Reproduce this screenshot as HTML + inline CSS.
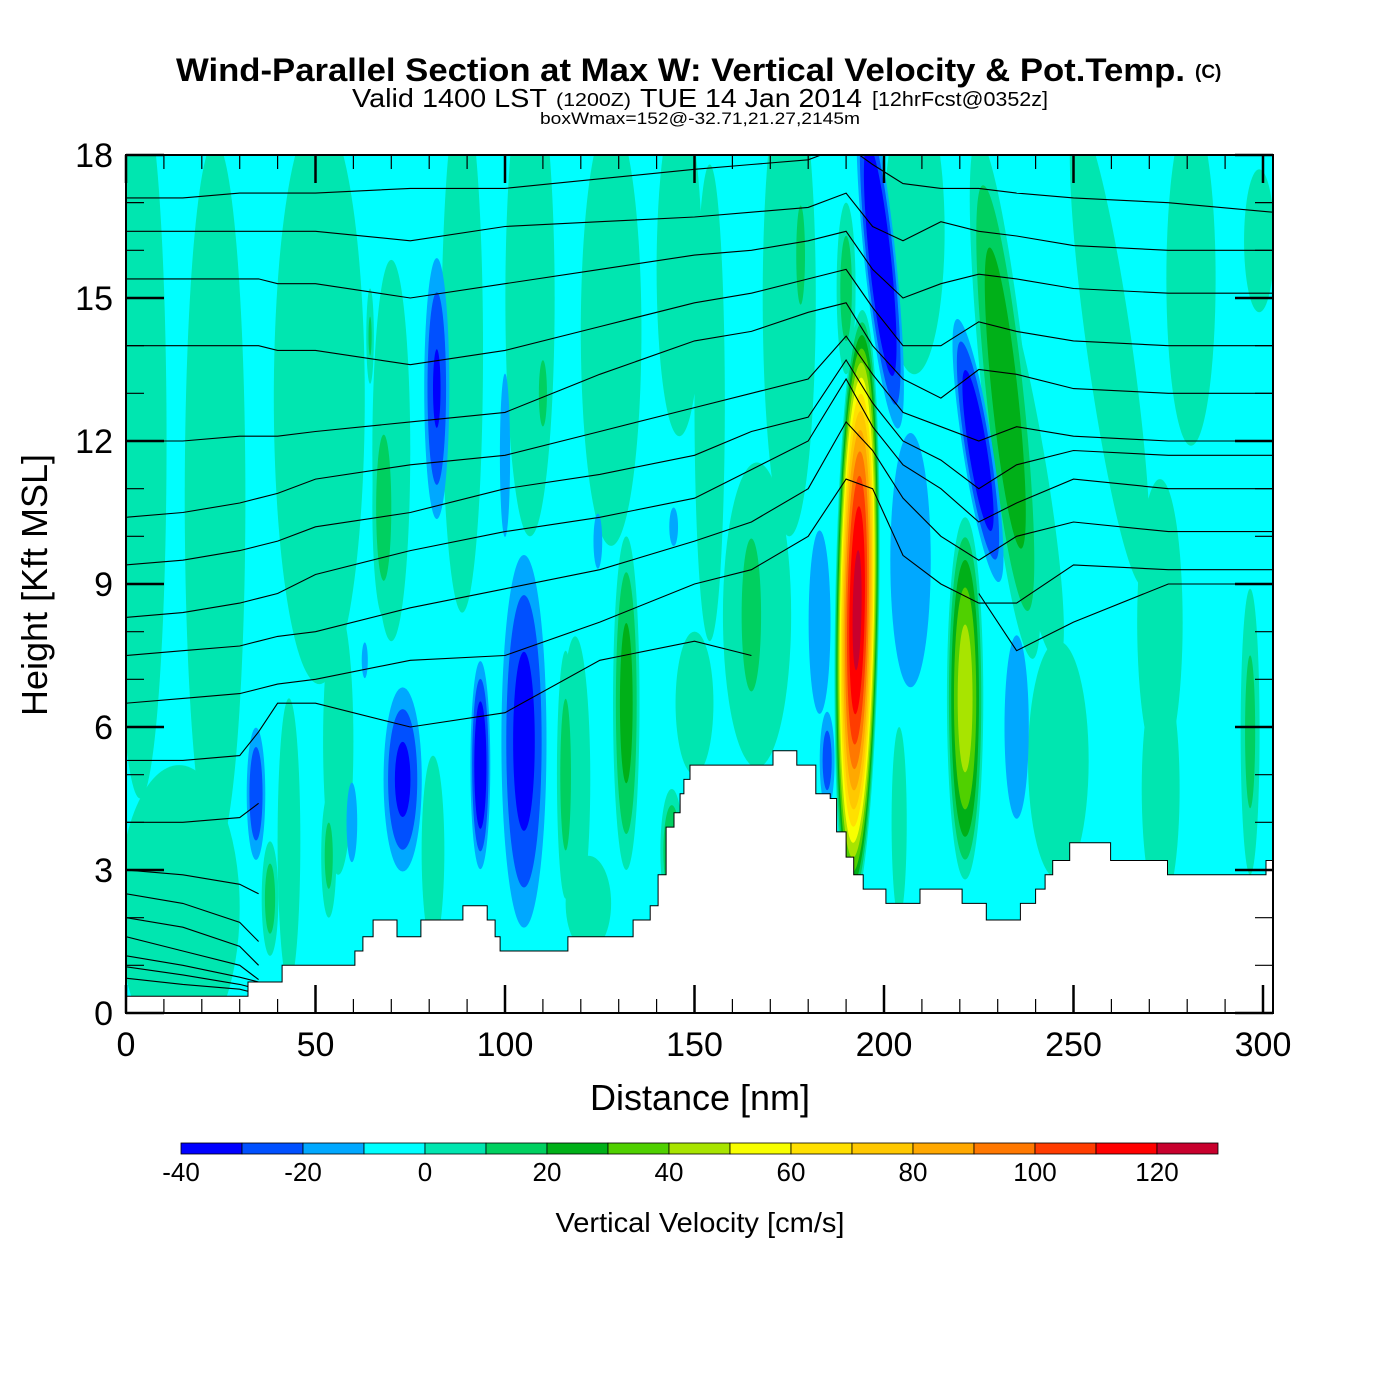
<!DOCTYPE html>
<html><head><meta charset="utf-8"><style>
html,body{margin:0;padding:0;background:#fff;}
svg{display:block;font-family:"Liberation Sans",Arial,sans-serif;}
</style></head><body>
<svg id="chart" width="1400" height="1400" viewBox="0 0 1400 1400" xmlns="http://www.w3.org/2000/svg">
<rect x="0" y="0" width="1400" height="1400" fill="#fff"/>
<text x="176" y="81" font-size="32" font-weight="bold" textLength="1009" lengthAdjust="spacingAndGlyphs">Wind-Parallel Section at Max W: Vertical Velocity &amp; Pot.Temp.</text>
<text x="1195" y="78" font-size="19" font-weight="bold">(C)</text>
<g>
<text x="352" y="107" font-size="26" textLength="195" lengthAdjust="spacingAndGlyphs">Valid 1400 LST</text>
<text x="556" y="106" font-size="18" textLength="75" lengthAdjust="spacingAndGlyphs">(1200Z)</text>
<text x="640" y="107" font-size="26" textLength="222" lengthAdjust="spacingAndGlyphs">TUE 14 Jan 2014</text>
<text x="872" y="106" font-size="20" textLength="176" lengthAdjust="spacingAndGlyphs">[12hrFcst@0352z]</text>
</g>
<text x="540" y="124" font-size="17" textLength="320" lengthAdjust="spacingAndGlyphs">boxWmax=152@-32.71,21.27,2145m</text>
<defs><clipPath id="plotclip"><rect x="126" y="155" width="1147" height="858"/></clipPath></defs>
<g id="field" clip-path="url(#plotclip)">
<rect x="126" y="155" width="1147" height="858" fill="#00ffff"/>
</g>
<g id="contours" clip-path="url(#plotclip)"></g>
<g id="terrain"></g>
<g id="axes"></g>
<g id="cbar"></g>
<text x="700" y="1110" font-size="36" text-anchor="middle">Distance [nm]</text>
<text x="0" y="0" font-size="36" text-anchor="middle" transform="translate(47,585) rotate(-90)">Height [Kft MSL]</text>
<text x="700" y="1232" font-size="28" text-anchor="middle" textLength="289" lengthAdjust="spacingAndGlyphs">Vertical Velocity [cm/s]</text>
</svg>
<script>
// ---- data ----
const bandColors = ["#0000ff","#0050ff","#00a8ff","#00ffff","#00e6b0","#00d060","#00b018","#50d000","#a8e400","#f8ff00","#ffe000","#ffc800","#ffa800","#ff7800","#ff3c00","#ff0000","#c8002d"];
const bandLows = [-40,-30,-20,-10,0,10,20,30,40,50,60,70,80,90,100,110,120];
const cbarTicks = [-40,-20,0,20,40,60,80,100,120];
const xTicks = [0,50,100,150,200,250,300];
const yTicks = [0,3,6,9,12,15,18];
// velocity features (nm, kft, radii, peak cm/s, tilt deg)
const featX =   [3.7,23.5,51,56,70,88.7,106.6,118.5,128,146,14,43,81,122,154,175,166.5,208,204,236,246,259.6,272.8,281,273,296.6,299,150, 68,64.4,110,38,53.5,116,132,144,165,178,190,232, 82,100,34.3,59.6,73,93.5,105,124.5,144.5,63,207,235,183,185,199,224.8, 192.9,221.4];
const featY =   [12,10.8,12.9,5.7,11.8,13.9,15,4.9,14.3,15.6,2.2,3.6,3.4,2.3,12.8,15,8.35,16.4,4,11.8,5.3,13.9,8.2,15.4,4.7,5.9,16.2,6.5, 10.6,14.2,13.0,2.4,3.3,5.0,6.5,3.4,8.35,15.9,15.2,12.9, 13.1,11.7,4.6,4.0,4.9,5.2,5.7,9.9,10.2,7.4,9.5,6.0,8.2,5.3,15.8,11.8, 8.45,6.6];
const featRx =  [7,8,12,4,5,5.5,6.5,4,8,6,16,3,3,6,4,7,9,8,2,6,8,6,6,6.5,5,2.5,4,5, 3,1,2,2.2,2,2.3,3.5,3,4,2,2.5,6, 4,2.2,3,2.2,6,3,7,2,2,1.5,8,5,4.5,2.5,4.7,4.5, 5.8,4.8];
const featRy =  [7.5,7.5,6,2.8,4,5.5,5,3,4.5,3.5,3,3,2,1,5,5,3.2,3,2,4.5,2.5,5,3,3.5,2.5,3,1.5,1.5, 2.3,1,1.3,1.2,1.3,2.6,3.5,1.3,2.5,1.8,1.8,5.5, 3.3,2.8,1.7,1.3,2.3,2.5,4.6,1,0.7,0.7,4,3,3,1.3,4,3.2, 6.3,3.8];
const featPeak =[8,8,8,8,8,8,8,8,8,8,8,8,8,8,8,8,8,8,8,8,8,8,8,8,8,14,8,8, 18,12,14,16,14,16,26,22,17,15,16,30, -32,-16,-30,-17,-34,-42,-36,-15,-15,-14,-18,-17,-17,-26,-48,-42, 125,48];
const featTilt =[0,0,0,0,0,0,0,0,0,0,0,0,0,0,0,0,0,0,0,-10,0,-8,0,0,0,0,0,0, 0,0,0,0,0,0,0,0,0,0,0,-6, 0,0,0,0,0,0,0,0,0,0,0,0,0,0,-6,-9, 1,0];
// potential temperature contours (kft at node distances)
const nodeNm = [0,15,30,35,40,50,75,100,125,150,165,180,190,197,205,215,225,235,250,275,302.6];
const th1 = [17.1,17.1,17.2,17.2,17.2,17.2,17.3,17.3,17.5,17.7,17.8,17.9,18.2,17.8,17.4,17.3,17.3,17.2,17.1,17.0,16.8];
const th2 = [16.4,16.4,16.4,16.4,16.4,16.4,16.2,16.5,16.6,16.7,16.8,16.9,17.2,16.5,16.2,16.6,16.4,16.3,16.1,16.0,16.0];
const th3 = [15.4,15.4,15.4,15.4,15.3,15.3,15.0,15.3,15.6,15.9,16.0,16.2,16.4,15.6,15.0,15.3,15.5,15.4,15.2,15.1,15.1];
const th4 = [14.0,14.0,14.0,14.0,13.9,13.9,13.6,13.9,14.4,14.9,15.1,15.4,15.6,14.8,14.0,14.0,14.5,14.3,14.1,14.0,14.0];
const th5 = [12.0,12.0,12.1,12.1,12.1,12.2,12.4,12.6,13.4,14.1,14.3,14.7,14.9,14.0,13.3,12.9,13.5,13.4,13.1,13.0,13.0];
const th6 = [10.4,10.5,10.7,10.8,10.9,11.2,11.5,11.7,12.2,12.7,13.0,13.3,14.2,13.4,12.6,12.3,12.0,12.3,12.1,12.0,12.0];
const th7 = [9.4,9.5,9.7,9.8,9.9,10.2,10.5,11.0,11.3,11.7,12.2,12.5,13.7,12.8,12.0,11.6,11.0,11.5,11.8,11.7,11.7];
const th8 = [8.3,8.4,8.6,8.7,8.8,9.2,9.7,10.1,10.4,10.8,11.4,12.0,13.3,12.3,11.5,11.0,10.3,10.7,11.2,11.0,11.0];
const th9 = [7.5,7.6,7.7,7.8,7.9,8.0,8.5,8.9,9.3,9.9,10.3,11.0,12.4,11.8,10.8,10.0,9.5,10.0,10.3,10.1,10.1];
const th10 = [6.5,6.6,6.7,6.8,6.9,7.0,7.4,7.5,8.2,9.0,9.3,10.0,11.2,11.0,9.6,9.0,8.6,8.6,9.4,9.3,9.3];
const th11 = [5.3,5.3,5.4,5.9,6.5,6.5,6.0,6.3,7.4,7.8,7.5,null,null,null,null,null,8.8,7.6,8.2,9.0,9.0];
const th12 = [4.0,4.0,4.1,4.4,null,null,null,null,null,null,null,null,null,null,null,null,null,null,null,null,null];
const th13 = [3.0,2.9,2.7,2.5,null,null,null,null,null,null,null,null,null,null,null,null,null,null,null,null,null];
const th14 = [2.5,2.3,1.9,1.5,null,null,null,null,null,null,null,null,null,null,null,null,null,null,null,null,null];
const th15 = [2.0,1.8,1.4,1.0,null,null,null,null,null,null,null,null,null,null,null,null,null,null,null,null,null];
const th16 = [1.6,1.3,1.0,0.7,null,null,null,null,null,null,null,null,null,null,null,null,null,null,null,null,null];
const th17 = [1.2,1.0,0.75,0.65,null,null,null,null,null,null,null,null,null,null,null,null,null,null,null,null,null];
const th18 = [0.97,0.8,0.6,0.5,null,null,null,null,null,null,null,null,null,null,null,null,null,null,null,null,null];
const th19 = [0.73,0.6,0.5,0.4,null,null,null,null,null,null,null,null,null,null,null,null,null,null,null,null,null];
const thetaSets = [th1,th2,th3,th4,th5,th6,th7,th8,th9,th10,th11,th12,th13,th14,th15,th16,th17,th18,th19];
// terrain step starts (nm) and heights (kft)
const terrainNm = [0,32.2,41.2,60.4,62.5,65.2,71.5,77.8,88.9,95.3,97.4,98.7,116.6,133.8,138.3,140.4,142.5,144.6,146.2,147.2,148.8,170.7,177,182,185.8,187.5,190,192,194.5,200.5,209.5,220.6,227,236,240,242.5,244.5,249,259.8,274.8,300.8];
const terrainKft = [0.35,0.65,1.0,1.3,1.6,1.95,1.6,1.95,2.25,1.95,1.6,1.3,1.6,1.95,2.25,2.9,3.9,4.2,4.6,4.9,5.2,5.5,5.2,4.6,4.5,3.8,3.27,2.9,2.6,2.3,2.6,2.3,1.95,2.3,2.6,2.9,3.2,3.57,3.2,2.9,3.2];

// ---- scales ----
const NS="http://www.w3.org/2000/svg";
const xMax = 302.6;
function X(nm){return 126 + nm*3.79;}
function Y(k){return 1013 - k*47.667;}
function mk(tag, attrs, parent){const e=document.createElementNS(NS,tag);for(const k in attrs)e.setAttribute(k,attrs[k]);parent.appendChild(e);return e;}
function bandColor(v){let i=Math.floor((v+40)/10);i=Math.max(0,Math.min(bandColors.length-1,i));return bandColors[i];}

// ---- field ----
const field=document.getElementById('field');
for(let f=0;f<featX.length;f++){
  const p=featPeak[f], cx=X(featX[f]), cy=Y(featY[f]);
  const rx=featRx[f]*3.79, ry=featRy[f]*47.667;
  const levels=[];
  if(p>0){for(let l=0;l<p;l+=10)levels.push(l);}else{for(let l=-10;l>p;l-=10)levels.push(l);}
  levels.forEach(l=>{
    const s=Math.sqrt(1-l/p);
    const col = p>0 ? bandColor(l+1) : bandColor(l-1);
    const e=mk('ellipse',{cx:cx,cy:cy,rx:rx*s,ry:ry*s,fill:col,transform:'rotate('+featTilt[f]+' '+cx+' '+cy+')'},field);
    
    
  });
}

// ---- contours ----
const cg=document.getElementById('contours');
thetaSets.forEach(arr=>{
  let d='', pen=false;
  for(let i=0;i<nodeNm.length;i++){
    if(arr[i]===null){pen=false;continue;}
    d+=(pen?'L':'M')+X(nodeNm[i]).toFixed(1)+' '+Y(arr[i]).toFixed(1)+' ';
    pen=true;
  }
  const p=mk('path',{d:d,fill:'none',stroke:'#000','stroke-width':1.1},cg);
  
  
});

// ---- terrain ----
const tg=document.getElementById('terrain');
let td='M'+X(0)+' '+Y(0)+' ';
for(let i=0;i<terrainNm.length;i++){
  const x0=X(terrainNm[i]), x1=X(i+1<terrainNm.length?terrainNm[i+1]:xMax);
  td+='L'+x0.toFixed(1)+' '+Y(terrainKft[i]).toFixed(1)+' L'+x1.toFixed(1)+' '+Y(terrainKft[i]).toFixed(1)+' ';
}
td+='L'+X(xMax)+' '+Y(0)+' Z';
const tp=mk('path',{d:td,fill:'#fff',stroke:'#000','stroke-width':1},tg);



// ---- axes ----
const ax=document.getElementById('axes');
const frame=mk('rect',{x:126,y:155,width:1147,height:858,fill:'none',stroke:'#000','stroke-width':2},ax);


for(let v=0;v<=300;v+=10){
  const big=v%50===0, L=big?28:14, x=X(v);
  mk('line',{x1:x,y1:1013,x2:x,y2:1013-L,stroke:'#000','stroke-width':big?2.5:1.2},ax);
  mk('line',{x1:x,y1:155,x2:x,y2:155+L,stroke:'#000','stroke-width':big?2.5:1.2},ax);
}
for(let v=0;v<=18;v+=1){
  const big=v%3===0, L=big?38:18, y=Y(v);
  mk('line',{x1:126,y1:y,x2:126+L,y2:y,stroke:'#000','stroke-width':big?2.5:1.2},ax);
  mk('line',{x1:1273,y1:y,x2:1273-L,y2:y,stroke:'#000','stroke-width':big?2.5:1.2},ax);
}
xTicks.forEach(v=>{
  const t=mk('text',{x:X(v),y:1056,'font-size':34,'text-anchor':'middle'},ax);t.textContent=v;
  
  
});
yTicks.forEach(v=>{
  const t=mk('text',{x:113,y:Y(v)+12,'font-size':34,'text-anchor':'end'},ax);t.textContent=v;
  
  
});

// ---- colorbar ----
const cb=document.getElementById('cbar');
function CX(v){return 181 + (v+40)*6.1;}
bandLows.forEach((lo,i)=>{
  const r=mk('rect',{x:CX(lo),y:1143,width:61,height:11,fill:bandColors[i],stroke:'#000','stroke-width':0.8},cb);
  
  
});
cbarTicks.forEach(v=>{
  const t=mk('text',{x:CX(v),y:1181,'font-size':26,'text-anchor':'middle'},cb);t.textContent=v;
  
  
});
</script>
</body></html>
